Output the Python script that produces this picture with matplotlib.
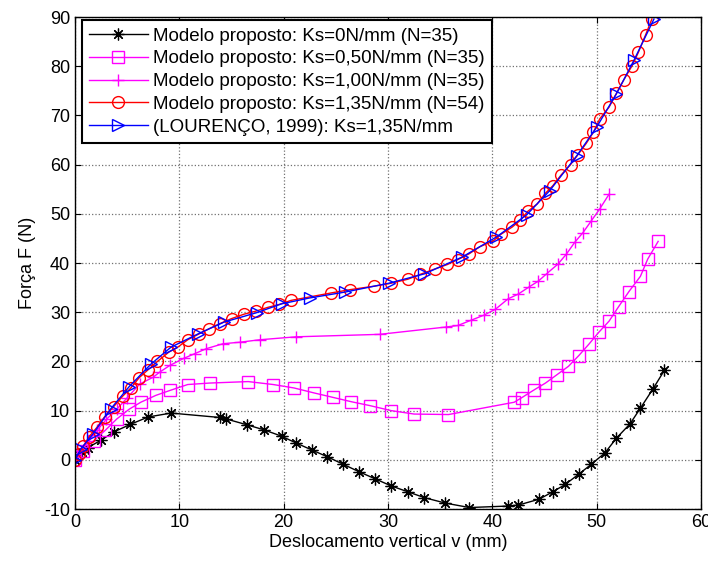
import matplotlib
matplotlib.use("Agg")
import matplotlib.pyplot as plt

plt.rcParams['font.family'] = ['Liberation Sans', 'DejaVu Sans']
plt.rcParams['axes.unicode_minus'] = False

# Ks = 0 N/mm (N=35)
x_k0 = [0, 0.7, 1.25, 2.5, 3.75, 5.3, 7.0, 9.2, 13.9, 14.5, 16.5, 18.1, 19.8, 21.2, 22.7,
        24.2, 25.7, 27.2, 28.8, 30.3, 31.9, 33.5, 35.5, 37.8, 41.5, 42.5, 44.5, 45.8, 47.0,
        48.3, 49.5, 50.8, 51.9, 53.2, 54.2, 55.4, 56.5]
y_k0 = [0, 1.5, 2.5, 4.0, 5.7, 7.2, 8.7, 9.5, 8.6, 8.3, 7.1, 6.1, 4.8, 3.4, 2.0,
        0.6, -0.9, -2.4, -3.9, -5.3, -6.5, -7.7, -8.8, -9.7, -9.4, -9.2, -8.0, -6.5, -5.0,
        -2.9, -0.9, 1.4, 4.4, 7.3, 10.5, 14.4, 18.2]

# Ks = 0,50 N/mm (N=35)
x_k050 = [0, 0.8, 1.8, 2.9, 4.0, 5.2, 6.3, 7.75, 9.1, 10.8, 12.9, 16.6, 19.0, 21.0, 22.9,
          24.7, 26.5, 28.3, 30.3, 32.5, 35.8, 42.1, 42.8, 44.0, 45.1, 46.2, 47.3, 48.3,
          49.3, 50.2, 51.2, 52.1, 53.1, 54.2, 54.9, 55.9]
y_k050 = [0, 1.8, 3.9, 6.0, 8.3, 10.3, 11.7, 13.1, 14.1, 15.3, 15.6, 15.9, 15.3, 14.6, 13.6,
          12.7, 11.8, 11.0, 10.0, 9.3, 9.2, 11.7, 12.6, 14.2, 15.6, 17.3, 19.0, 21.2,
          23.6, 25.9, 28.2, 31.1, 34.2, 37.3, 40.8, 44.4]

# Ks = 1,00 N/mm (N=35)
x_k100 = [0, 0.6, 1.3, 2.1, 3.0, 4.0, 5.0, 6.2, 7.5, 8.1, 9.1, 10.4, 11.5, 12.6, 14.2,
          15.8, 17.7, 21.2, 29.2, 35.6, 36.7, 38.0, 39.2, 40.3, 41.5, 42.5, 43.5, 44.4,
          45.2, 46.3, 47.1, 47.9, 48.7, 49.5, 50.3, 51.2]
y_k100 = [0, 1.8, 3.8, 6.0, 8.2, 10.3, 12.6, 15.4, 16.8, 17.8, 19.2, 20.6, 21.6, 22.6, 23.6,
          23.9, 24.4, 25.0, 25.5, 27.0, 27.3, 28.4, 29.4, 30.6, 32.7, 33.7, 35.1, 36.3,
          37.8, 39.8, 41.8, 44.2, 46.2, 48.6, 51.0, 54.0]

# Ks = 1,35 N/mm (N=54)
x_k135 = [0, 0.35, 0.8, 1.35, 2.1, 2.85, 3.7, 4.55, 5.35, 6.15, 7.0, 7.9, 9.0, 9.85, 10.8,
          11.9, 12.8, 13.9, 15.0, 16.2, 17.3, 18.5, 19.6, 20.7, 24.5, 26.4, 28.7, 30.3,
          31.9, 33.1, 34.5, 35.7, 36.7, 37.8, 38.8, 40.1, 40.8, 41.9, 42.7, 43.4, 44.3,
          45.1, 45.8, 46.6, 47.5, 48.2, 49.0, 49.7, 50.3, 51.2, 51.9, 52.6, 53.4, 54.0,
          54.7, 55.3]
y_k135 = [0, 1.2, 2.8, 4.7, 6.6, 8.8, 10.8, 12.9, 14.6, 16.7, 18.3, 20.0, 21.9, 22.9, 24.4,
          25.6, 26.6, 27.7, 28.7, 29.6, 30.2, 31.0, 31.6, 32.4, 33.9, 34.6, 35.3, 35.9,
          36.7, 37.7, 38.8, 39.7, 40.7, 41.9, 43.3, 44.5, 45.8, 47.3, 48.7, 50.5, 52.0,
          54.2, 55.7, 57.9, 60.0, 62.0, 64.3, 66.6, 69.3, 71.7, 74.5, 77.2, 80.1, 82.8,
          86.4, 89.6]

# LOURENCO 1999, Ks = 1,35 N/mm
x_lou = [0, 0.55, 1.7, 3.4, 5.2, 7.3, 9.2, 11.8, 14.3, 17.4, 19.8, 22.5, 25.9, 30.1, 33.5,
         37.1, 40.4, 43.3, 45.5, 48.1, 50.0, 51.9, 53.6, 55.5]
y_lou = [0, 2.2, 5.2, 10.3, 14.9, 19.5, 22.9, 25.6, 28.0, 29.9, 31.7, 32.9, 34.1, 35.9, 37.8,
         41.2, 45.3, 49.8, 54.7, 61.8, 67.6, 74.4, 81.3, 89.6]

labels = ["Modelo proposto: Ks=0N/mm (N=35)",
          "Modelo proposto: Ks=0,50N/mm (N=35)",
          "Modelo proposto: Ks=1,00N/mm (N=35)",
          "Modelo proposto: Ks=1,35N/mm (N=54)",
          "(LOURENÇO, 1999): Ks=1,35N/mm"]

x_ticks = [0, 10, 20, 30, 40, 50, 60]
y_ticks = [-10, 0, 10, 20, 30, 40, 50, 60, 70, 80, 90]

fig = plt.figure(figsize=(7.08, 5.62), dpi=100)
ax = fig.add_axes([0.106, 0.0943, 0.884, 0.8754])

ms = 8.5
ax.plot(x_k0, y_k0, color='black', lw=1.0, marker=(8, 2, 0), ms=8.5, mew=0.9, label=labels[0])
ax.plot(x_k050, y_k050, color='#ff00ff', lw=1.0, marker='s', ms=ms, mfc='none', mew=1.0, label=labels[1])
ax.plot(x_k100, y_k100, color='#ff00ff', lw=1.0, marker='+', ms=9, mew=1.0, label=labels[2])
ax.plot(x_k135, y_k135, color='red', lw=1.0, marker='o', ms=ms, mfc='none', mew=1.0, label=labels[3])
ax.plot(x_lou, y_lou, color='blue', lw=1.0, marker='>', ms=ms, mfc='none', mew=1.0, label=labels[4])

ax.set_xlim(0, 60)
ax.set_ylim(-10, 90)
ax.set_xticks(x_ticks)
ax.set_yticks(y_ticks)
ax.grid(True, linestyle=':', color='#707070', linewidth=0.9)
ax.tick_params(direction='in', length=4, width=0.8, top=True, right=True, labelsize=13)
for s in ax.spines.values():
    s.set_linewidth(1.0)
    s.set_color('black')

ax.set_xlabel("Deslocamento vertical v (mm)", fontsize=13, labelpad=2)
ax.set_ylabel("Força F (N)", fontsize=13, labelpad=6)

leg = ax.legend(loc='upper left', bbox_to_anchor=(0.011, 0.994), borderaxespad=0,
                fontsize=13.5, fancybox=False, framealpha=1, edgecolor='black',
                handlelength=3.1, handletextpad=0.3, labelspacing=0.3, borderpad=0.4)
leg.get_frame().set_linewidth(1.5)

fig.savefig("out.png", dpi=100)
